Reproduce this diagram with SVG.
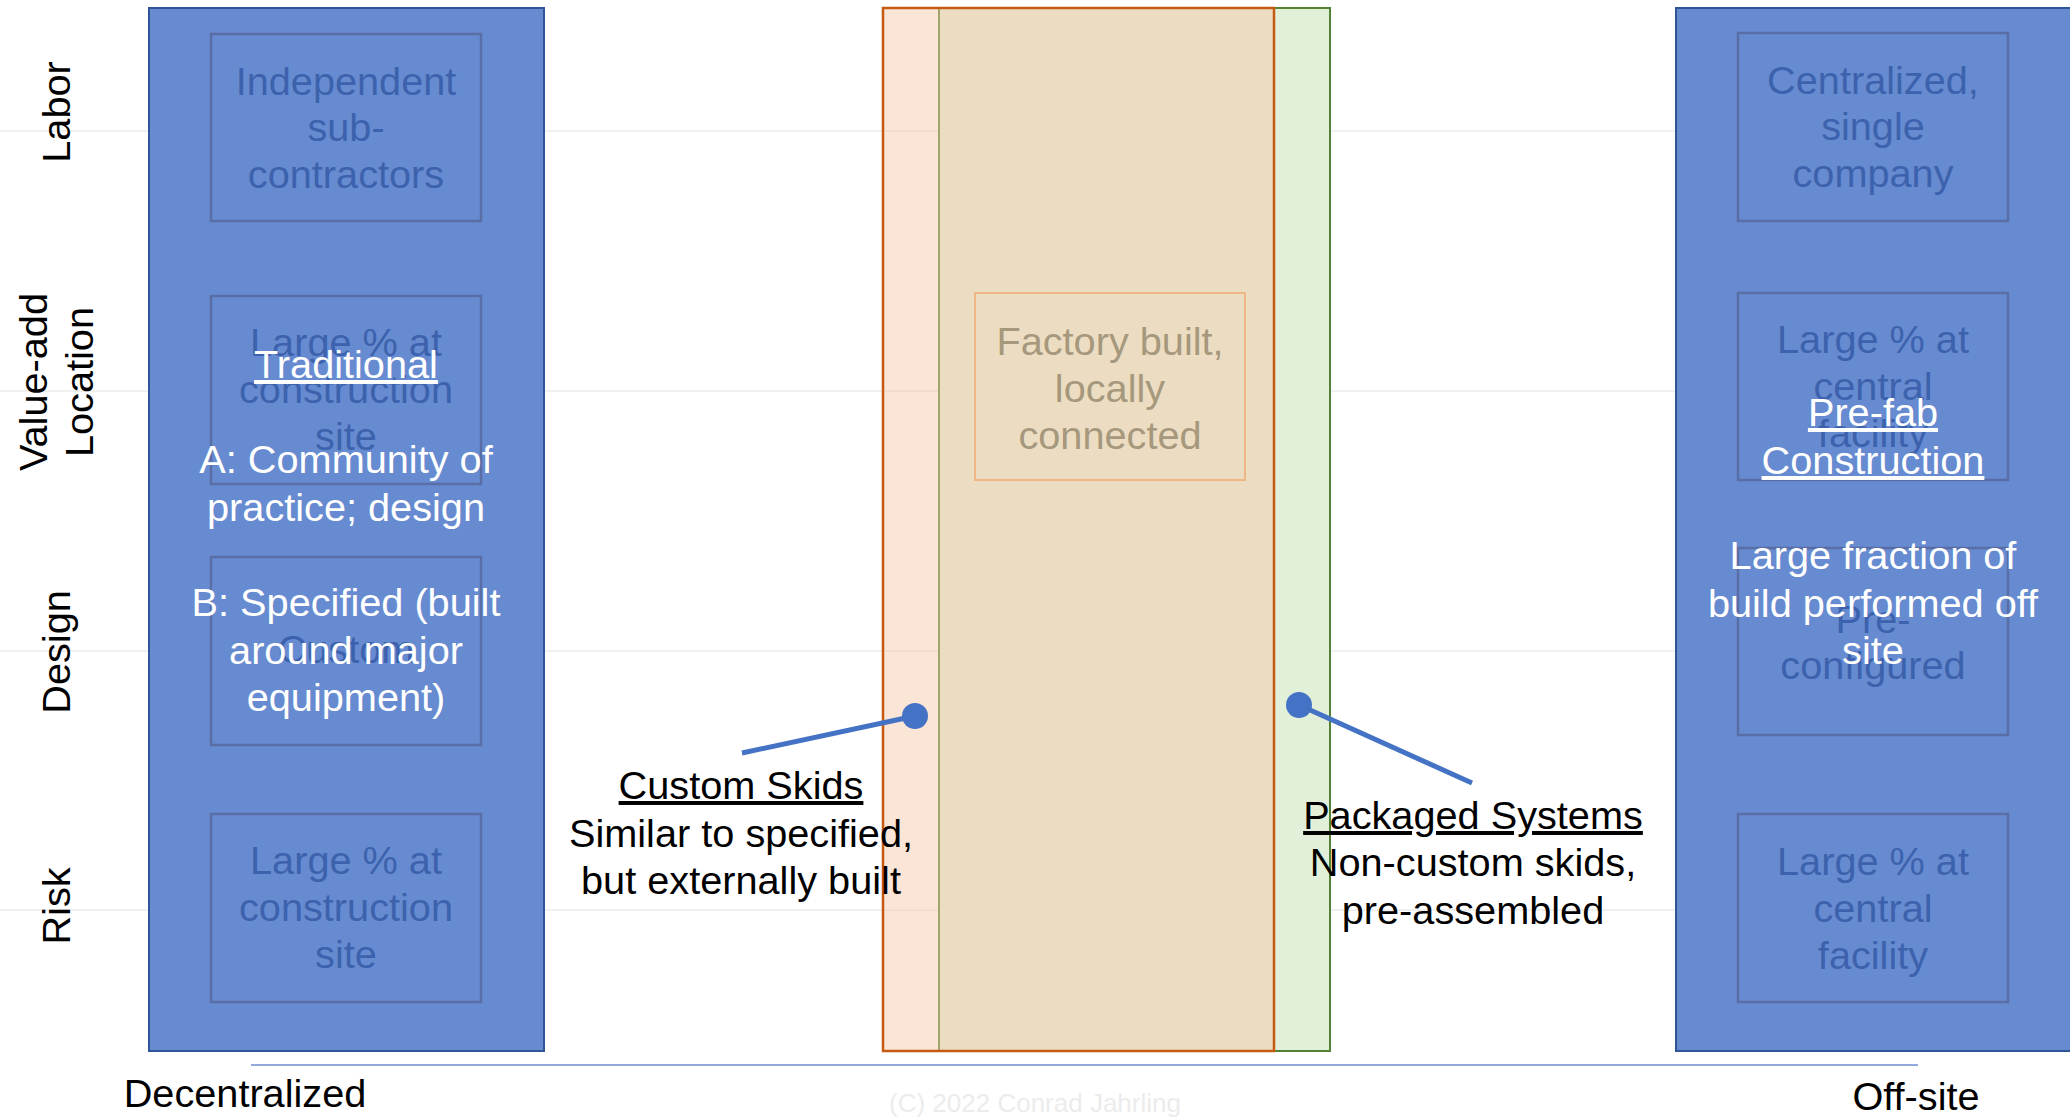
<svg xmlns="http://www.w3.org/2000/svg" width="2070" height="1119" viewBox="0 0 2070 1119">
<style>
text { font-family: "Liberation Sans", Arial, sans-serif; font-size: 39.7px; }
.grid { stroke: #f0f0f0; stroke-width: 2; }
.col { fill: #678bd0; stroke: #2f5597; stroke-width: 2; }
.cell { fill: none; stroke: #5a6ea6; stroke-width: 2.5; }
.ct { fill: #3d62ad; text-anchor: middle; }
.wt { fill: #ffffff; text-anchor: middle; }
.bt { fill: #000000; text-anchor: middle; }
.u { text-decoration: underline; }
.conn { stroke: #4472c4; stroke-width: 5; fill: none; }
.dot { fill: #4472c4; }
</style>
<rect width="2070" height="1119" fill="#ffffff"/>
<g id="gridlines">
<line class="grid" x1="0" y1="131" x2="2070" y2="131"/>
<line class="grid" x1="0" y1="391" x2="2070" y2="391"/>
<line class="grid" x1="0" y1="651" x2="2070" y2="651"/>
<line class="grid" x1="0" y1="910" x2="2070" y2="910"/>
</g>
<g id="row-labels">
<text class="bt" transform="translate(70,112) rotate(-90)">Labor</text>
<text class="bt" transform="translate(47,382) rotate(-90)">Value-add</text>
<text class="bt" transform="translate(93,382) rotate(-90)">Location</text>
<text class="bt" transform="translate(70,652) rotate(-90)">Design</text>
<text class="bt" transform="translate(70,906) rotate(-90)">Risk</text>
</g>
<g id="traditional">
<rect class="col" x="149" y="8" width="395" height="1043"/>
<rect class="cell" x="211" y="34" width="270" height="187"/>
<rect class="cell" x="211" y="296" width="270" height="188"/>
<rect class="cell" x="211" y="557" width="270" height="188"/>
<rect class="cell" x="211" y="814" width="270" height="188"/>
<text class="ct" x="346" y="95">Independent</text>
<text class="ct" x="346" y="141">sub-</text>
<text class="ct" x="346" y="188">contractors</text>
<text class="ct" x="346" y="356">Large % at</text>
<text class="ct" x="346" y="403">construction</text>
<text class="ct" x="346" y="450">site</text>
<text class="ct" x="346" y="663">Custom</text>
<text class="ct" x="346" y="874">Large % at</text>
<text class="ct" x="346" y="921">construction</text>
<text class="ct" x="346" y="968">site</text>
<text class="wt u" x="346" y="378">Traditional</text>
<text class="wt" x="346" y="473">A: Community of</text>
<text class="wt" x="346" y="521">practice; design</text>
<text class="wt" x="346" y="616">B: Specified (built</text>
<text class="wt" x="346" y="664">around major</text>
<text class="wt" x="346" y="711">equipment)</text>
</g>
<g id="prefab">
<rect class="col" x="1676" y="8" width="396" height="1043"/>
<rect class="cell" x="1738" y="33" width="270" height="188"/>
<rect class="cell" x="1738" y="293" width="270" height="187"/>
<rect class="cell" x="1738" y="548" width="270" height="187"/>
<rect class="cell" x="1738" y="814" width="270" height="188"/>
<text class="ct" x="1873" y="94">Centralized,</text>
<text class="ct" x="1873" y="140">single</text>
<text class="ct" x="1873" y="187">company</text>
<text class="ct" x="1873" y="353">Large % at</text>
<text class="ct" x="1873" y="400">central</text>
<text class="ct" x="1873" y="447">facility</text>
<text class="ct" x="1873" y="633">Pre-</text>
<text class="ct" x="1873" y="679">configured</text>
<text class="ct" x="1873" y="875">Large % at</text>
<text class="ct" x="1873" y="922">central</text>
<text class="ct" x="1873" y="969">facility</text>
<text class="wt u" x="1873" y="426">Pre-fab</text>
<text class="wt u" x="1873" y="474">Construction</text>
<text class="wt" x="1873" y="569">Large fraction of</text>
<text class="wt" x="1873" y="617">build performed off</text>
<text class="wt" x="1873" y="664">site</text>
</g>
<g id="packaged-band">
<rect x="939" y="8" width="391" height="1043" fill="#e2f0d9" stroke="#548235" stroke-width="2"/>
</g>
<g id="custom-band">
<rect x="883" y="8" width="391" height="1043" fill="#f7c9aa" fill-opacity="0.48" stroke="#c55a11" stroke-width="2.5"/>
</g>
<g id="factory">
<rect x="975" y="293" width="270" height="187" fill="none" stroke="#efb784" stroke-width="2"/>
<text x="1110" y="355" text-anchor="middle" fill="#a6987d">Factory built,</text>
<text x="1110" y="402" text-anchor="middle" fill="#a6987d">locally</text>
<text x="1110" y="449" text-anchor="middle" fill="#a6987d">connected</text>
</g>
<g id="connectors">
<line class="conn" x1="742" y1="753" x2="915" y2="716"/>
<circle class="dot" cx="915" cy="716" r="13"/>
<line class="conn" x1="1472" y1="783" x2="1299" y2="705"/>
<circle class="dot" cx="1299" cy="705" r="13"/>
</g>
<g id="custom-skids-label">
<text class="bt u" x="741" y="799">Custom Skids</text>
<text class="bt" x="741" y="847">Similar to specified,</text>
<text class="bt" x="741" y="894">but externally built</text>
</g>
<g id="packaged-systems-label">
<text class="bt u" x="1473" y="829">Packaged Systems</text>
<text class="bt" x="1473" y="876">Non-custom skids,</text>
<text class="bt" x="1473" y="924">pre-assembled</text>
</g>
<g id="axis">
<line x1="251" y1="1065" x2="1918" y2="1065" stroke="#6f8fd0" stroke-width="1.5"/>
<text class="bt" x="245" y="1107">Decentralized</text>
<text class="bt" x="1916" y="1110">Off-site</text>
</g>
<text x="1035" y="1112" text-anchor="middle" fill="#ececec" style="font-size:26px">(C) 2022 Conrad Jahrling</text>
</svg>
